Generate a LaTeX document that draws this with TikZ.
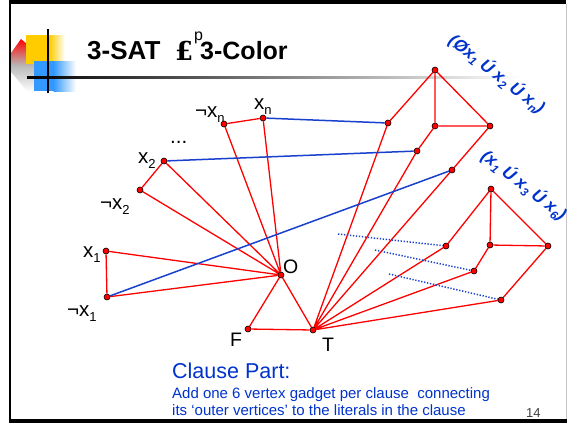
\documentclass[tikz,border=0pt]{standalone}
\usepackage{fontspec}
\setmainfont{Liberation Sans}
\newfontfamily\poundfont{DejaVu Serif}
\pgfdeclarelayer{back}
\pgfdeclarelayer{edges}
\pgfsetlayers{back,edges,main}
\definecolor{vred}{RGB}{255,0,0}
\definecolor{linkblue}{RGB}{25,65,205}
\definecolor{textblue}{RGB}{0,51,204}
\definecolor{logoyellow}{RGB}{255,204,0}
\definecolor{logoblue}{RGB}{51,153,255}
% lowered small index for literal labels and for clause labels
\newcommand\lsub[1]{\raisebox{-5pt}{\fontsize{13}{13}\selectfont #1}}
\newcommand\rsub[1]{\raisebox{-3.5pt}{\fontsize{11.5}{12}\selectfont #1}}
\tikzset{
  vtx/.style={circle, fill=vred, draw=black, line width=0.6pt, inner sep=0pt, minimum size=6pt},
  redge/.style={draw=vred, line width=1.3pt},
  bedge/.style={draw=linkblue, line width=1.5pt},
  dotedge/.style={draw=linkblue, line width=1.5pt, dash pattern=on 1.3pt off 1.7pt},
  lit/.style={font=\fontsize{20.5}{22}\selectfont, inner sep=0pt, anchor=base west},
  pole/.style={font=\fontsize{19.5}{21}\selectfont, inner sep=0pt, anchor=base west},
  titletext/.style={font=\fontsize{26}{28}\selectfont\bfseries, inner sep=0pt, anchor=base west},
  clause/.style={font=\fontsize{17}{19}\selectfont\bfseries\itshape, text=textblue, inner sep=0pt, rotate=-38},
  note/.style={text=textblue, inner sep=0pt, anchor=base west},
}
\begin{document}
\begin{tikzpicture}[x=1pt,y=-1pt]
\useasboundingbox (0,0) rectangle (569,424);

\begin{pgfonlayer}{back}
% slide frame
\fill[white] (0,0) rectangle (569,424);
\fill[black] (8.5,0) rectangle (566,4);
\fill[black] (8.5,0) rectangle (11,423);
\fill[black] (8.5,418.5) rectangle (567,423);
\fill[gray!45] (565.5,4) rectangle (567,418.5);

% logo
\shade[top color=vred, bottom color=white, middle color=gray!55]
  (11,53) -- (21,39) -- (34,50) -- (34,92) -- (28,92) -- (11,72) -- cycle;
\fill[logoyellow] (26,35) rectangle (50,64);
\shade[left color=logoyellow, right color=white] (49.5,35) rectangle (65,64);
\fill[logoblue] (34,61) rectangle (54,91);
\shade[left color=logoblue, right color=white] (53.5,61) rectangle (76,91);
\shade[left color=black, right color=white] (27,76.6) rectangle (520,78.8);
\fill[black] (47.3,29) rectangle (49.3,93);
\end{pgfonlayer}

% title
\node[titletext] (t1) at (87,59) {3-SAT};
\node[inner sep=0pt, anchor=base west, font=\fontsize{26}{28}\selectfont\poundfont\bfseries] (t2) at (175,60) {£};
\node[inner sep=0pt, anchor=base west, font=\fontsize{16}{18}\selectfont] (t3) at (194,40) {p};
\node[titletext, font=\fontsize{25}{27}\selectfont\bfseries] (t4) at (200,59) {3-Color};

% clause labels
\node[clause] (c1) at (497,74) {(Øx\rsub{1} Ú x\rsub{2} Ú x\rsub{n})};
\node[clause] (c2) at (524,185) {(x\rsub{1} Ú x\rsub{3} Ú x\rsub{6})};

% literal labels
\node[lit] (lx1) at (83,257) {x\lsub{1}};
\node[lit] (lnx1) at (67,316) {¬x\lsub{1}};
\node[lit] (lx2) at (138,163) {x\lsub{2}};
\node[lit] (lnx2) at (100,209) {¬x\lsub{2}};
\node[lit] (lnxn) at (195,117) {¬x\lsub{n}};
\node[lit] (lxn) at (254,109) {x\lsub{n}};
\node[lit] (ldots) at (170,143) {...};
\node[pole] (lO) at (283,273) {O};
\node[pole] (lF) at (230,346) {F};
\node[pole] (lT) at (322,351) {T};

% vertices
\node[vtx] (O) at (281,275) {};
\node[vtx] (F) at (248,329) {};
\node[vtx] (T) at (313,330) {};
\node[vtx] (x1) at (106,251) {};
\node[vtx] (nx1) at (107,297) {};
\node[vtx] (x2) at (164,161) {};
\node[vtx] (nx2) at (140,190) {};
\node[vtx] (nxn) at (224,124) {};
\node[vtx] (xn) at (263,118) {};
% gadget of the first clause
\node[vtx] (atop) at (435,70) {};
\node[vtx] (al) at (388,123) {};
\node[vtx] (am) at (435,126) {};
\node[vtx] (ar) at (490,126) {};
\node[vtx] (alm) at (417,151) {};
\node[vtx] (alr) at (452,170) {};
% gadget of the second clause
\node[vtx] (btop) at (491,189) {};
\node[vtx] (bl) at (446,246) {};
\node[vtx] (bm) at (490,245) {};
\node[vtx] (br) at (548,246) {};
\node[vtx] (blm) at (474,271) {};
\node[vtx] (blr) at (501,300) {};
% loose ends of the dotted links
\coordinate (d1) at (338,234);
\coordinate (d2) at (375,250);
\coordinate (d3) at (389,274);

\begin{pgfonlayer}{edges}
  \draw[redge] (x1) -- (nx1) (x1) -- (O) (nx1) -- (O)
               (x2) -- (nx2) (x2) -- (O) (nx2) -- (O)
               (nxn) -- (xn) (nxn) -- (O) (xn) -- (O)
               (O) -- (F) (O) -- (T) (F) -- (T);
  \draw[redge] (T) -- (al) (T) -- (alm) (T) -- (alr)
               (T) -- (bl) (T) -- (blm) (T) -- (blr);
  \draw[redge] (atop) -- (al) (atop) -- (am) (atop) -- (ar)
               (am) -- (ar) (am) -- (alm) (ar) -- (alr);
  \draw[redge] (btop) -- (bl) (btop) -- (bm) (btop) -- (br)
               (bm) -- (br) (bm) -- (blm) (br) -- (blr);
  \draw[bedge] (xn) -- (al) (x2) -- (alm) (nx1) -- (alr);
  \draw[dotedge] (d1) -- (bl) (d2) -- (blm) (d3) -- (blr);
\end{pgfonlayer}

% caption
\node[note, font=\fontsize{21.5}{23}\selectfont] (cap) at (172,378) {Clause Part:};
\node[note, font=\fontsize{15}{17}\selectfont] (cap1) at (172,398) {Add one 6 vertex gadget per clause\ \ connecting};
\node[note, font=\fontsize{15}{17}\selectfont] (cap2) at (172,415) {its ‘outer vertices’ to the literals in the clause};
\node[inner sep=0pt, anchor=base west, text=black!75, font=\fontsize{13}{15}\selectfont] (pg) at (526,417) {14};
\end{tikzpicture}
\end{document}
